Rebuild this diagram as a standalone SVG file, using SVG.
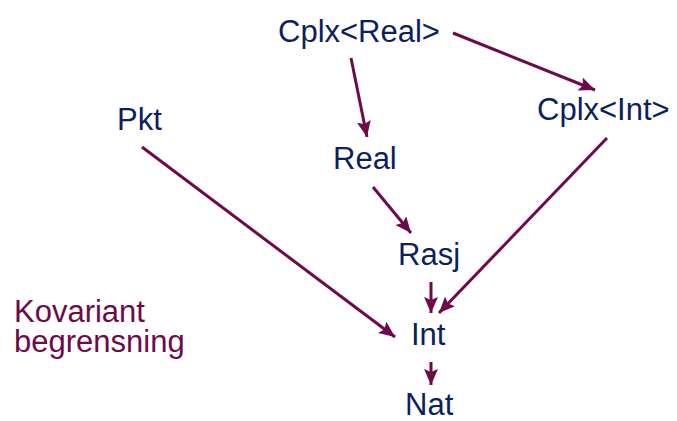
<svg xmlns="http://www.w3.org/2000/svg" width="677" height="421" viewBox="0 0 677 421">
<style>
.t{font-family:"Liberation Sans",Arial,sans-serif;font-size:31px;fill:#0c1f5e}
.k{font-family:"Liberation Sans",Arial,sans-serif;font-size:31px;fill:#6e0a4a}
.c line{stroke:#6e0a4a;stroke-width:3;marker-end:url(#ah)}
</style>
<defs>
<marker id="ah" markerUnits="userSpaceOnUse" markerWidth="20" markerHeight="16" refX="16" refY="7" orient="auto">
<path d="M0,0 L16,7 L0,14 L3,7 Z" fill="#6e0a4a"/>
</marker>
</defs>
<rect width="677" height="421" fill="#fff"/>
<g class="c">
<line x1="351" y1="58" x2="367" y2="137"/>
<line x1="453" y1="33" x2="595" y2="90"/>
<line x1="373" y1="187" x2="411" y2="233"/>
<line x1="142" y1="147" x2="395" y2="337"/>
<line x1="607" y1="138" x2="439" y2="313"/>
<line x1="431" y1="282" x2="431" y2="313"/>
<line x1="431" y1="362" x2="431" y2="385"/>
</g>
<g id="cplxreal"><text class="t" x="278" y="42">Cplx&lt;Real&gt;</text></g>
<g id="cplxint"><text class="t" x="537" y="120">Cplx&lt;Int&gt;</text></g>
<g id="pkt"><text class="t" x="117" y="130">Pkt</text></g>
<g id="real"><text class="t" x="333" y="169">Real</text></g>
<g id="rasj"><text class="t" x="398" y="265">Rasj</text></g>
<g id="int"><text class="t" x="411" y="345">Int</text></g>
<g id="nat"><text class="t" x="405" y="415">Nat</text></g>
<g id="label"><text class="k" x="14" y="322">Kovariant<tspan x="14" dy="30">begrensning</tspan></text></g>
</svg>
